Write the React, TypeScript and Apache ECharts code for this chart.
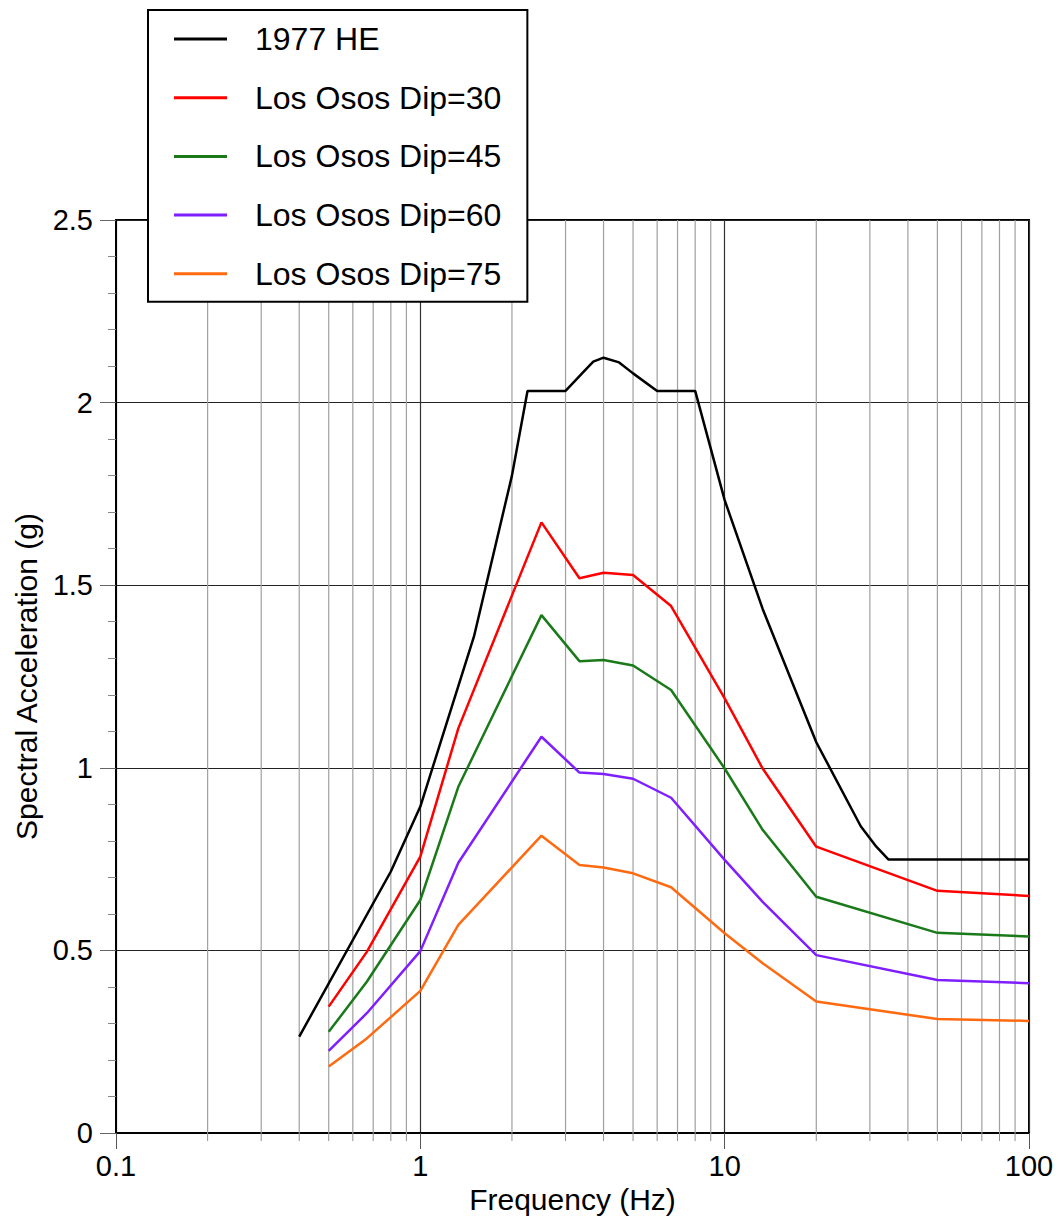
import React, { useEffect, useRef } from "react";
import * as echarts from "echarts";

const heFreq = [0.4, 0.8, 1, 1.5, 2, 2.25, 3, 3.4, 3.7, 4, 4.5, 5, 6, 8, 10, 13.33, 20, 28, 31.5, 34.5, 100];
const heSa = [0.264, 0.716, 0.894, 1.359, 1.8, 2.032, 2.032, 2.08, 2.112, 2.123, 2.11, 2.08, 2.032, 2.032, 1.733, 1.435, 1.07, 0.84, 0.784, 0.749, 0.749];

const losOsosFreq = [0.5, 0.667, 1, 1.333, 2.5, 3.333, 4, 5, 6.667, 10, 13.33, 20, 50, 100];
const dip30 = [0.346, 0.496, 0.757, 1.108, 1.672, 1.519, 1.534, 1.528, 1.443, 1.19, 0.998, 0.784, 0.663, 0.649];
const dip45 = [0.277, 0.414, 0.638, 0.948, 1.418, 1.292, 1.295, 1.28, 1.213, 0.998, 0.83, 0.647, 0.548, 0.538];
const dip60 = [0.225, 0.328, 0.498, 0.74, 1.085, 0.987, 0.983, 0.97, 0.918, 0.748, 0.633, 0.487, 0.419, 0.41];
const dip75 = [0.182, 0.259, 0.389, 0.57, 0.814, 0.734, 0.727, 0.711, 0.673, 0.547, 0.465, 0.36, 0.312, 0.307];

const seriesNames = ["1977 HE", "Los Osos Dip=30", "Los Osos Dip=45", "Los Osos Dip=60", "Los Osos Dip=75"];
const seriesColors = ["#000000", "#ff0000", "#1a7a1a", "#7f1fff", "#ff6a10"];

const minorFreqTicks = [0.2, 0.3, 0.4, 0.5, 0.6, 0.7, 0.8, 0.9, 2, 3, 4, 5, 6, 7, 8, 9, 20, 30, 40, 50, 60, 70, 80, 90];

const FONT = "'Liberation Sans', Arial, Helvetica, sans-serif";

export default function App() {
  const ref = useRef<HTMLDivElement>(null);
  useEffect(() => {
    if (!ref.current) return;
    const chart = echarts.init(ref.current, null, { renderer: "svg" });
    const zip = (xs: number[], ys: number[]) => xs.map((x, i) => [x, ys[i]]);
    const lineData = [
      zip(heFreq, heSa),
      zip(losOsosFreq, dip30),
      zip(losOsosFreq, dip45),
      zip(losOsosFreq, dip60),
      zip(losOsosFreq, dip75),
    ];
    const option: any = {
      animation: false,
      backgroundColor: "#ffffff",
      textStyle: { fontFamily: FONT },
      grid: {
        left: 116,
        right: 30,
        top: 220,
        bottom: 89,
        show: true,
        borderColor: "#000",
        borderWidth: 2,
        backgroundColor: "transparent",
      },
      legend: {
        data: seriesNames,
        orient: "vertical",
        left: 148,
        top: 10,
        padding: [13, 26, 12, 26],
        itemWidth: 53,
        itemHeight: 3,
        itemGap: 26.7,
        icon: "rect",
        backgroundColor: "#ffffff",
        borderColor: "#000",
        borderWidth: 2,
        borderRadius: 0,
        z: 10,
        textStyle: {
          fontFamily: FONT,
          fontSize: 32,
          color: "#000",
          lineHeight: 32,
          padding: [0, 0, 0, 23],
        },
      },
      xAxis: {
        type: "log",
        logBase: 10,
        min: 0.1,
        max: 100,
        name: "Frequency (Hz)",
        nameLocation: "middle",
        nameGap: 50,
        nameTextStyle: { fontFamily: FONT, fontSize: 30, color: "#000" },
        axisLine: { show: true, onZero: false, lineStyle: { color: "#000", width: 2 } },
        axisTick: { show: true, length: 16, lineStyle: { color: "#555", width: 1 } },
        axisLabel: {
          fontFamily: FONT,
          fontSize: 29,
          color: "#000",
          margin: 18,
          formatter: (v: number) => String(Number(v.toPrecision(6))),
        },
        splitLine: { show: true, lineStyle: { color: "#333", width: 1.2 } },
        minorTick: { show: false },
      },
      yAxis: {
        type: "value",
        min: 0,
        max: 2.5,
        interval: 0.5,
        name: "Spectral Acceleration (g)",
        nameLocation: "middle",
        nameGap: 72,
        nameTextStyle: { fontFamily: FONT, fontSize: 30, color: "#000" },
        axisLine: { show: true, lineStyle: { color: "#000", width: 2 } },
        axisTick: { show: true, length: 16, lineStyle: { color: "#666", width: 1 } },
        minorTick: { show: true, splitNumber: 5, length: 8, lineStyle: { color: "#888", width: 1 } },
        axisLabel: {
          fontFamily: FONT,
          fontSize: 29,
          color: "#000",
          margin: 23,
          formatter: (v: number) => String(v),
        },
        splitLine: { show: true, lineStyle: { color: "#222", width: 1.2 } },
      },
      series: [
        {
          type: "custom",
          name: "minorGrid",
          silent: true,
          clip: false,
          z: 1,
          encode: { x: 0, y: 1 },
          data: minorFreqTicks.map((f) => [f, 0]),
          renderItem: (params: any, api: any) => {
            const x = api.value(0);
            const top = api.coord([x, 2.5]);
            const bot = api.coord([x, 0]);
            return {
              type: "group",
              children: [
                {
                  type: "line",
                  shape: { x1: top[0], y1: top[1], x2: bot[0], y2: bot[1] },
                  style: { stroke: "#a0a0a0", lineWidth: 1.2 },
                },
                {
                  type: "line",
                  shape: { x1: bot[0], y1: bot[1], x2: bot[0], y2: bot[1] + 8 },
                  style: { stroke: "#909090", lineWidth: 1 },
                },
              ],
            };
          },
        },
        ...seriesNames.map((name, i) => ({
          type: "line",
          name,
          data: lineData[i],
          symbol: "none",
          showSymbol: false,
          z: 3,
          lineStyle: { color: seriesColors[i], width: 2.5 },
          itemStyle: { color: seriesColors[i] },
        })),
      ],
    };
    chart.setOption(option);
    return () => chart.dispose();
  }, []);
  return (
    <div
      ref={ref}
      style={{ position: "fixed", left: 0, top: 0, width: 1059, height: 1222, background: "#fff" }}
    />
  );
}
